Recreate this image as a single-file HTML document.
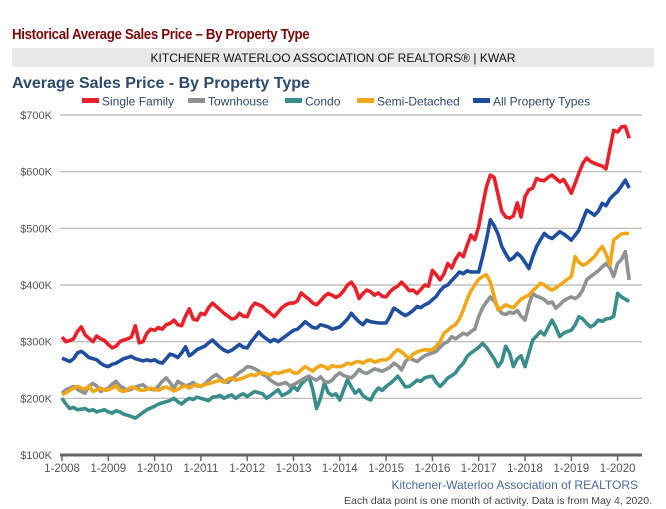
<!DOCTYPE html>
<html><head><meta charset="utf-8"><style>
body{margin:0;width:666px;height:509px;background:#fff;font-family:"Liberation Sans",sans-serif;overflow:hidden;position:relative}
.t{position:absolute;white-space:nowrap}
</style></head><body>
<div class="t" style="left:12px;top:27px;font-size:14.5px;font-weight:bold;color:#7a0a0a;letter-spacing:-0.4px;transform:scaleX(0.92);transform-origin:left">Historical Average Sales Price – By Property Type</div>
<div style="position:absolute;left:12px;top:48px;width:642px;height:19px;background:#e8e8e8"></div>
<div class="t" style="left:12px;width:642px;top:51px;text-align:center;font-size:12px;color:#111">KITCHENER WATERLOO ASSOCIATION OF REALTORS® | KWAR</div>
<svg width="666" height="509" style="position:absolute;left:0;top:0" id="chart">
<text x="12" y="88" font-size="16" font-weight="bold" fill="#2d4a6b">Average Sales Price - By Property Type</text>
<g id="legend" font-size="12" fill="#2d4a6b"></g>
<g id="grid"></g><g id="lines"></g><g id="axis"></g>
<text x="638" y="489" font-size="12" fill="#4a6a9a" text-anchor="end">Kitchener-Waterloo Association of REALTORS</text>
<text x="652" y="504" font-size="10.5" fill="#444" text-anchor="end">Each data point is one month of activity. Data is from May 4, 2020.</text>
</svg>
<script>
const yTicks=[100,200,300,400,500,600,700];
const xYears=[2008,2009,2010,2011,2012,2013,2014,2015,2016,2017,2018,2019,2020];
const seriesNames=["Condo","Townhouse","Semi-Detached","All Property Types","Single Family"];
const legendOrder=["Single Family","Townhouse","Condo","Semi-Detached","All Property Types"];
const single=[308,300,302,305,318,326,312,306,300,310,305,302,295,289,292,300,303,305,308,328,298,300,315,322,320,325,322,330,332,338,330,328,345,358,340,338,350,348,360,368,362,356,350,345,340,342,350,345,344,360,368,365,362,355,350,344,352,360,365,368,368,372,386,380,375,368,365,372,380,385,382,378,382,390,400,405,395,376,385,391,388,382,386,380,379,388,394,398,405,398,390,391,385,392,400,398,426,418,409,420,438,430,445,456,450,470,488,480,503,540,573,594,590,560,530,520,518,522,545,520,556,568,571,588,585,584,590,594,588,582,586,575,562,580,598,615,624,618,615,612,610,605,640,673,670,679,680,659];
const allTypes=[271,268,265,270,280,283,278,272,270,268,262,258,256,260,262,266,270,272,274,270,268,266,268,266,268,264,262,270,278,276,272,280,291,275,280,286,289,292,298,303,296,290,285,282,285,290,295,290,289,300,308,317,310,305,300,304,300,305,310,315,320,322,328,335,330,325,324,330,328,326,322,324,326,333,340,350,342,335,330,338,335,334,333,333,333,345,359,355,350,346,350,355,362,360,365,368,374,380,390,397,400,408,415,423,420,425,423,423,423,450,479,515,505,490,468,455,444,448,456,450,440,429,450,468,480,491,485,482,488,494,490,485,479,488,497,515,532,528,523,530,544,540,552,559,565,575,585,571];
const townhouse=[209,215,218,221,216,212,209,222,226,222,212,215,218,225,230,222,218,214,216,220,222,224,218,216,215,222,230,236,228,218,230,226,222,224,228,222,221,226,232,238,242,236,230,228,234,240,246,250,256,255,252,248,242,239,232,228,224,226,228,222,224,228,232,236,239,235,232,238,230,228,232,240,245,240,238,236,242,251,246,244,248,252,250,248,251,255,262,258,250,265,271,268,265,270,275,278,280,283,290,297,300,309,305,310,315,312,318,322,344,360,370,379,372,360,350,348,352,350,355,345,338,365,385,380,378,374,368,370,359,365,372,376,379,376,381,392,409,415,420,425,432,438,430,415,438,445,459,409];
const semi=[206,210,214,218,221,218,216,222,212,215,218,214,215,218,222,214,212,216,220,218,215,214,216,218,216,214,218,220,217,213,216,220,222,218,222,224,221,224,226,228,230,232,228,234,236,232,234,236,239,242,240,244,245,243,241,246,244,246,248,250,245,244,250,256,252,248,254,258,256,252,258,256,256,258,262,260,264,265,262,266,268,264,266,268,268,272,280,286,282,276,270,278,282,284,286,285,286,292,300,315,320,326,330,340,356,374,390,400,410,415,418,405,380,356,360,365,362,360,368,375,379,382,390,396,403,400,395,391,395,400,405,410,415,450,440,435,438,444,450,460,468,455,435,479,485,490,491,491];
const condo=[200,190,182,184,180,181,182,178,180,176,178,180,176,174,178,176,172,170,168,165,170,175,180,183,186,190,192,194,196,200,194,190,196,200,198,202,200,198,196,202,203,205,200,204,206,200,205,208,203,208,212,210,208,200,205,210,215,205,208,212,221,214,225,232,239,215,182,200,227,210,205,208,197,215,233,220,209,215,205,200,197,210,218,214,221,226,232,239,230,220,221,226,232,230,236,238,239,228,221,228,236,240,245,255,262,274,280,285,290,297,290,280,270,256,265,292,280,256,270,275,256,280,303,310,318,312,325,338,325,309,315,318,320,330,344,340,332,326,330,338,336,340,341,345,385,379,375,371];
const colors={"Single Family":"#e8212b","Townhouse":"#8e9292","Condo":"#3b8d8b","Semi-Detached":"#f0a81a","All Property Types":"#1f4e9c"};
const dataMap={"Single Family":single,"Townhouse":townhouse,"Condo":condo,"Semi-Detached":semi,"All Property Types":allTypes};
const NS="http://www.w3.org/2000/svg";
const X0=62,YEARW=46.3,X_L=60,X_R=642;
function xs(i){return X0+i*YEARW/12;}
function ys(v){return 455-(v-100)*340/600;}
function mk(tag,attrs,parent){const e=document.createElementNS(NS,tag);for(const k in attrs)e.setAttribute(k,attrs[k]);parent.appendChild(e);return e;}
const grid=document.getElementById('grid'),axis=document.getElementById('axis'),lines=document.getElementById('lines'),legend=document.getElementById('legend');
yTicks.forEach(v=>{
  if(v>100){const l=mk('line',{x1:X_L,x2:X_R,y1:ys(v),y2:ys(v),stroke:'#b5b5b5','stroke-width':1.2},grid);
  
  }
  const t=mk('text',{x:52,y:ys(v)+4,'font-size':11,fill:'#555','text-anchor':'end'},axis);
  t.textContent='$'+v+'K';
  
  
});
const base=mk('line',{x1:X_L,x2:X_R,y1:455,y2:455,stroke:'#666','stroke-width':3},axis);


xYears.forEach((y,k)=>{
  const x=X0+k*YEARW;
  const tk=mk('line',{x1:x,x2:x,y1:455,y2:461,stroke:'#666','stroke-width':1.5},axis);
  
  
  const t=mk('text',{x:x,y:472,'font-size':11.5,fill:'#555','text-anchor':'middle'},axis);
  t.textContent='1-'+y;
  
  
});
seriesNames.forEach(n=>{
  const d=dataMap[n].map((v,i)=>(i?'L':'M')+xs(i).toFixed(1)+','+ys(v).toFixed(1)).join('');
  const p=mk('path',{d:d,fill:'none',stroke:colors[n],'stroke-width':3.6,'stroke-linejoin':'round'},lines);
  
  
});
const legX=[82,188,285,357,473];
legendOrder.forEach((n,k)=>{
  const g=mk('g',{},legend);
  
  
  mk('rect',{x:legX[k],y:98,width:17,height:5,fill:colors[n]},g);
  const t=mk('text',{x:legX[k]+20,y:105.5},g);
  t.textContent=n;
});
</script>
</body></html>
